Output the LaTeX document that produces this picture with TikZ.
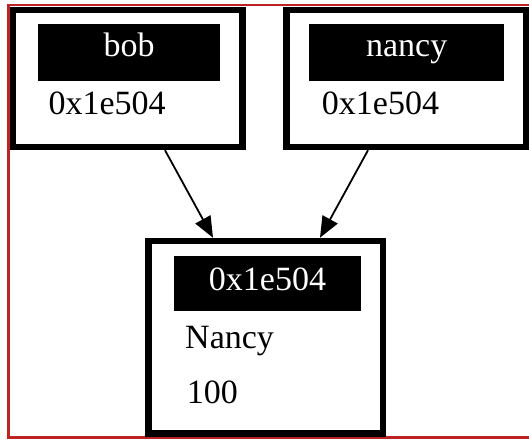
\documentclass[tikz,border=0pt]{standalone}
\usepackage{fontspec}
\setmainfont{Liberation Serif}
\usetikzlibrary{arrows.meta,calc}
\definecolor{frame}{RGB}{190,35,35}
\tikzset{
  box/.style={draw=black, line width=6.5pt, fill=white, inner sep=0pt},
  bar/.style={fill=black, text=white, inner xsep=0pt, inner ysep=0pt, font=\fontsize{34}{40}\selectfont},
  txt/.style={anchor=base west, inner sep=0pt, font=\fontsize{34}{40}\selectfont},
  conn/.style={line width=1.8pt, -{Triangle[length=21pt,width=17pt]}}
}
\begin{document}
\begin{tikzpicture}[x=1pt,y=-1pt]
\useasboundingbox (0,0) rectangle (529,439);
% frame
\draw[frame, line width=2.5pt] (529,5) -- (8.7,5) -- (8.7,437.5) -- (529,437.5);
% boxes
\node[box, minimum width=229.5pt, minimum height=137pt] (bob) at (127.75,78.5) {};
\node[box, minimum width=239.3pt, minimum height=137pt] (nancy) at (406.35,78.5) {};
\node[box, minimum width=234.5pt, minimum height=192.3pt] (mem) at (265.75,337.15) {};
% header bars
\node[bar, minimum width=182pt, text height=32.7pt, text depth=24pt, anchor=north] (bobbar) at (129,24) {bob};
\node[bar, minimum width=194.7pt, text height=32.7pt, text depth=24pt, anchor=north] (nancybar) at (406.65,24) {nancy};
\node[bar, minimum width=186.4pt, text height=34.7pt, text depth=20.3pt, anchor=north] (membar) at (267.5,256) {0x1e504};
% texts
\node[txt] (bobaddr) at (48.3,114.3) {0x1e504};
\node[txt] (nancyaddr) at (321.7,114.3) {0x1e504};
\node[txt] (name) at (185,348.3) {Nancy};
\node[txt] (val) at (186.7,403.3) {100};
% connectors
\draw[conn] ($(bob.south)+(37.25,0)$) -- ($(mem.north)+(-52.75,0)$);
\draw[conn] ($(nancy.south)+(-38.35,0)$) -- ($(mem.north)+(54.25,0)$);
\end{tikzpicture}
\end{document}
